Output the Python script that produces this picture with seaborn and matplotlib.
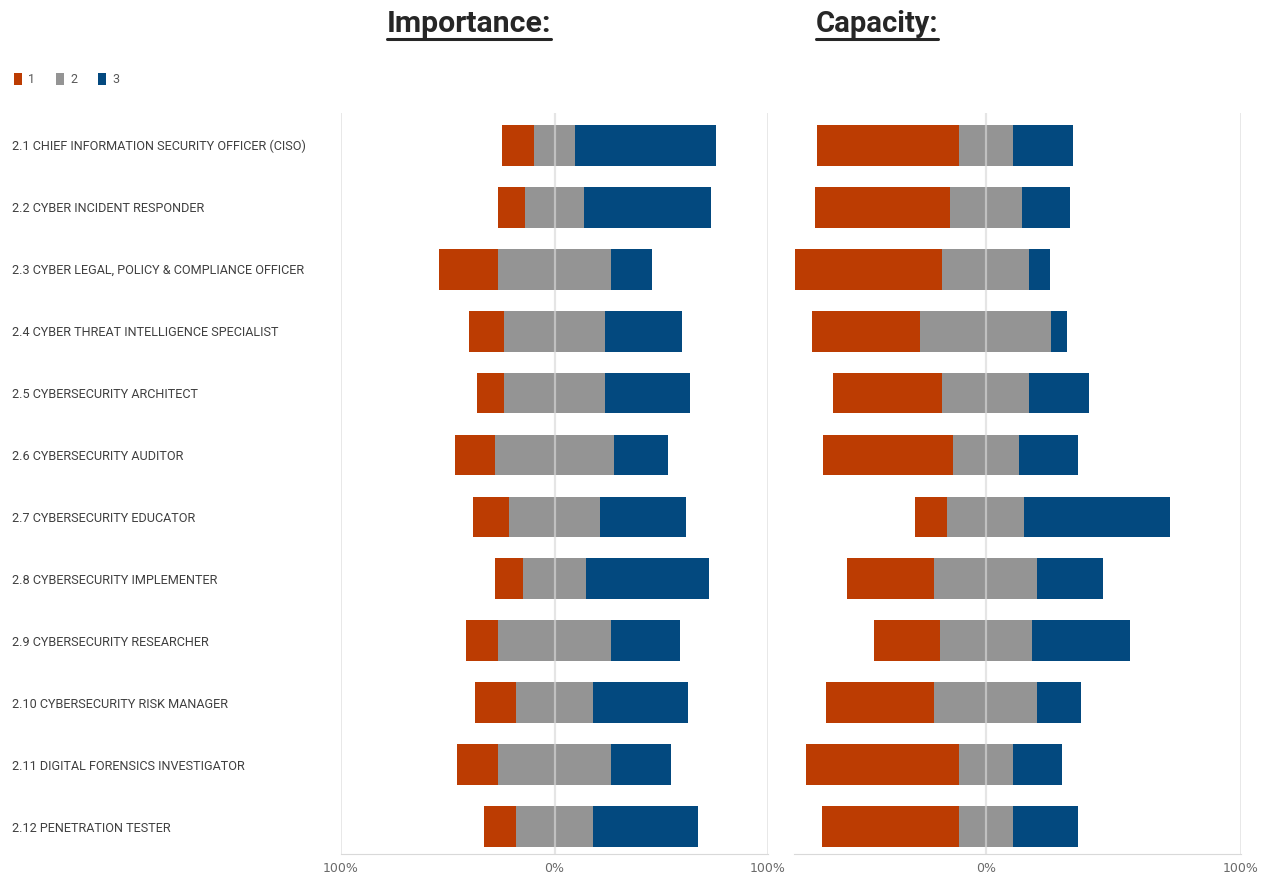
import numpy as np
import pandas as pd
import seaborn as sns
import matplotlib.pyplot as plt
from matplotlib.patches import Patch
from matplotlib.lines import Line2D

# roles (y categories)
roles = ['2.1 CHIEF INFORMATION SECURITY OFFICER (CISO)', '2.2 CYBER INCIDENT RESPONDER',
         '2.3 CYBER LEGAL, POLICY & COMPLIANCE OFFICER', '2.4 CYBER THREAT INTELLIGENCE SPECIALIST',
         '2.5 CYBERSECURITY ARCHITECT', '2.6 CYBERSECURITY AUDITOR', '2.7 CYBERSECURITY EDUCATOR',
         '2.8 CYBERSECURITY IMPLEMENTER', '2.9 CYBERSECURITY RESEARCHER',
         '2.10 CYBERSECURITY RISK MANAGER', '2.11 DIGITAL FORENSICS INVESTIGATOR',
         '2.12 PENETRATION TESTER']

# Importance shares (%) for answers 1, 2, 3
imp_1 = [15.0, 12.6, 27.6, 16.7, 12.5, 19.0, 16.9, 12.8, 15.0, 19.1, 19.2, 14.8]
imp_2 = [19.2, 28.1, 53.3, 47.0, 47.2, 55.3, 42.8, 29.8, 53.1, 36.2, 53.1, 36.2]
imp_3 = [66.0, 59.3, 19.0, 36.3, 40.1, 25.5, 40.1, 57.3, 32.0, 44.6, 27.8, 48.9]

# Capacity shares (%) for answers 1, 2, 3
cap_1 = [55.5, 52.9, 57.5, 42.6, 42.7, 51.0, 12.7, 33.9, 25.6, 42.5, 59.8, 53.4]
cap_2 = [21.2, 28.2, 34.1, 51.2, 34.1, 25.7, 30.2, 40.5, 36.2, 40.5, 21.2, 21.2]
cap_3 = [23.5, 18.8, 8.3, 6.4, 23.3, 23.2, 57.0, 25.5, 38.3, 17.0, 19.1, 25.5]

answers = ['1', '2', '3']
colors = ['#BC3C02', '#949494', '#03497F']

sns.set_style('white')
plt.rcParams['font.family'] = ['Roboto', 'DejaVu Sans']

W, H = 1271, 874
fig = plt.figure(figsize=(W / 100, H / 100), dpi=100)
top, bot = 113, 854
ax1 = fig.add_axes([341 / W, 1 - bot / H, 427 / W, (bot - top) / H])
ax2 = fig.add_axes([794 / W, 1 - bot / H, 447 / W, (bot - top) / H])


def diverging(ax, s1, s2, s3):
    df = pd.DataFrame({'role': roles, 'a1': s1, 'a2': s2, 'a3': s3})
    df['half'] = df['a2'] / 2
    df['nhalf'] = -df['half']
    df['left'] = -(df['a1'] + df['half'])
    df['right'] = df['half'] + df['a3']
    kw = dict(y='role', orient='h', order=roles, width=0.66, ax=ax, linewidth=0, saturation=1)
    sns.barplot(data=df, x='right', color=colors[2], **kw)
    sns.barplot(data=df, x='left', color=colors[0], **kw)
    sns.barplot(data=df, x='half', color=colors[1], **kw)
    sns.barplot(data=df, x='nhalf', color=colors[1], **kw)
    for p in ax.patches:
        p.set_edgecolor('none')
    ax.axvline(0, color='#D8D8D8', lw=1.6, alpha=0.65, zorder=5)
    ax.axvline(100, color='#E4E4E4', lw=1.2, zorder=0)
    ax.set_ylim(11.44, -0.52)
    ax.set_xlabel('')
    ax.set_ylabel('')
    for s in ['top', 'right', 'left']:
        ax.spines[s].set_visible(False)
    ax.spines['bottom'].set_color('#D9D9D9')
    ax.tick_params(axis='x', length=0, pad=6, labelsize=9, labelcolor='#6A6A6A')


diverging(ax1, imp_1, imp_2, imp_3)
ax1.axvline(-100, color='#E4E4E4', lw=1.2, zorder=0)
ax1.set_xlim(-100, 100)
ax1.set_xticks([-100, 0, 100])
ax1.set_xticklabels(['100%', '0%', '100%'], family=['DejaVu Sans'])
ax1.tick_params(axis='y', length=0, pad=329 * 0.72, labelcolor='#404040')

diverging(ax2, cap_1, cap_2, cap_3)
ax2.set_xlim(-75.1, 100)
ax2.set_xticks([0, 100])
ax2.set_xticklabels(['0%', '100%'], family=['DejaVu Sans'])
ax2.set_yticks([])

fig.canvas.draw()
r = fig.canvas.get_renderer()

# fit the role labels so the longest one spans about 293 px
labels = ax1.get_yticklabels()
w0 = labels[0].get_window_extent(renderer=r).width
size = labels[0].get_fontsize() * 293 / w0
for t in labels:
    t.set_horizontalalignment('left')
    t.set_fontsize(size)

# titles with underline
titles = [('Importance:', 469, 164), ('Capacity:', 877, 122)]
for txt, xc, wt in titles:
    t = fig.text(xc / W, 1 - 24 / H, txt, ha='center', va='center', fontsize=20,
                 fontweight='bold', color='#262626')
    bb = t.get_window_extent(renderer=r)
    t.set_fontsize(20 * wt / bb.width)
    y = 1 - 39 / H
    fig.add_artist(Line2D([(xc - wt / 2) / W, (xc + wt / 2) / W], [y, y], color='#262626', lw=2.2))

handles = [Patch(facecolor=c, edgecolor='none') for c in colors]
fig.legend(handles, answers, loc='upper left', bbox_to_anchor=(3 / W, 1 - 62 / H), ncol=3,
           frameon=False, handlelength=0.6, handleheight=1.0, handletextpad=0.5,
           columnspacing=1.7, fontsize=9, labelcolor='#595959')

fig.savefig('out.png', dpi=100)
